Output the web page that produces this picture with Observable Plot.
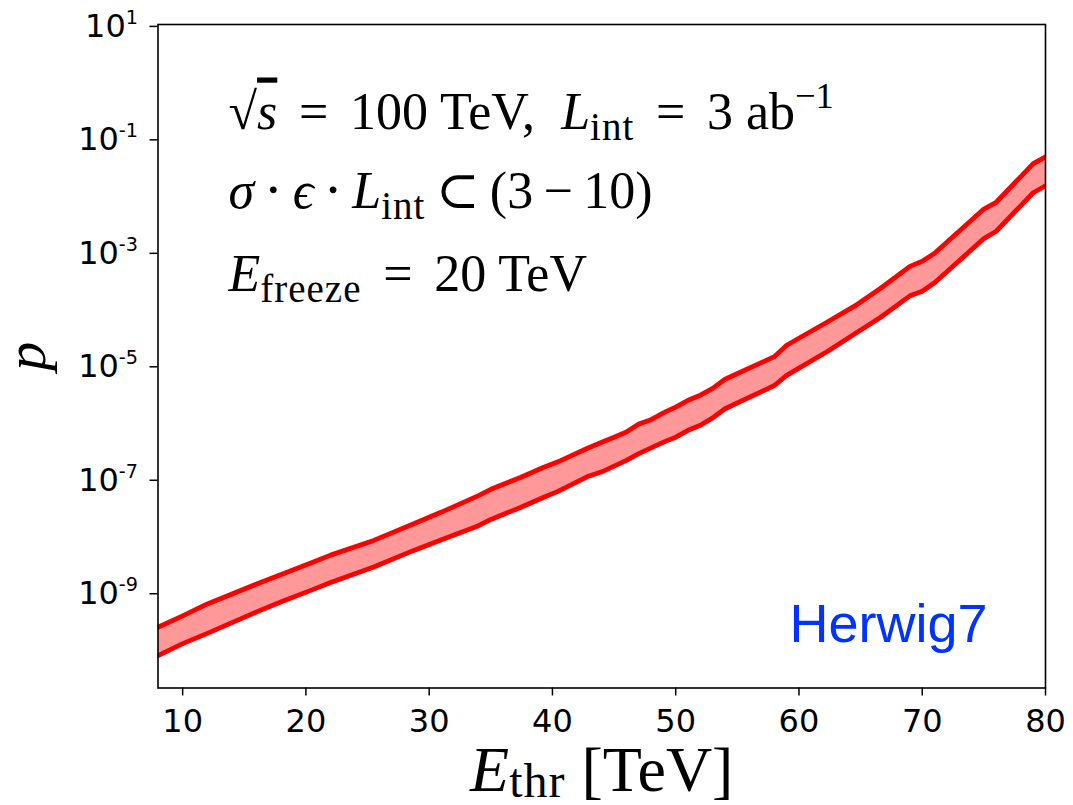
<!DOCTYPE html>
<html><head><meta charset="utf-8">
<script src="https://cdn.jsdelivr.net/npm/d3@7"></script>
<script src="https://cdn.jsdelivr.net/npm/@observablehq/plot@0.6"></script>
<style>body{margin:0;background:#fff} svg{display:block}</style>
</head><body><div id="chart"></div>
<script>
const E = [8,10,12,16,18,20.5,22,25.5,28.7,31,34,35,37.4,39.3,40.4,42.8,44,45,46,47,48,49.2,50,51,52,53,54,58,59,62.3,64.5,66.6,69,70,71,75,76,79,80];
const pUpper = [2.57e-10,4.07e-10,6.61e-10,1.48e-9,2.19e-9,3.55e-9,4.79e-9,8.71e-9,1.70e-8,2.75e-8,5.37e-8,6.92e-8,1.12e-7,1.70e-7,2.09e-7,3.63e-7,4.68e-7,5.75e-7,7.08e-7,9.77e-7,1.17e-6,1.62e-6,1.95e-6,2.57e-6,3.16e-6,4.17e-6,6.03e-6,1.51e-5,2.40e-5,6.17e-5,1.17e-4,2.40e-4,5.89e-4,7.24e-4,1.00e-3,6.03e-3,7.94e-3,3.80e-2,5.01e-2];
const pLower = [8.13e-11,1.32e-10,2.00e-10,4.79e-10,7.24e-10,1.17e-9,1.58e-9,2.95e-9,5.75e-9,8.91e-9,1.58e-8,2.04e-8,3.31e-8,5.01e-8,6.31e-8,1.15e-7,1.41e-7,1.78e-7,2.24e-7,2.95e-7,3.72e-7,4.90e-7,5.75e-7,7.59e-7,9.33e-7,1.26e-6,1.82e-6,4.68e-6,7.08e-6,1.86e-5,3.80e-5,7.41e-5,1.78e-4,2.14e-4,3.02e-4,1.82e-3,2.45e-3,1.17e-2,1.55e-2];
const xTicks = [10,20,30,40,50,60,70,80];
const yTicks = [1e1,1e-1,1e-3,1e-5,1e-7,1e-9];
const yTickLabels = ["10^{1}","10^{-1}","10^{-3}","10^{-5}","10^{-7}","10^{-9}"];
const annotLines = [
  "√~{s}\u2004\u200a=\u2004\u200a100 TeV,\u2002$L$_{int}\u2004\u200a=\u2004\u200a3 ab^{−1}",
  "$σ$\u2009⋅\u2009$ϵ$\u2009⋅\u2009$L$_{int}\u2009⊂\u2009(3\u2009−\u200910)",
  "$E$_{freeze}\u2004\u200a=\u2004\u200a20 TeV"
];
const xLabel = "$E$_{thr} [TeV]";
const yLabel = "$p$";
const generatorLabel = "Herwig7";

const rows = E.map((e, i) => ({E: e, hi: pUpper[i], lo: pLower[i]}));
const serif = "'Liberation Serif', 'DejaVu Serif', serif";
const annotDy = [104, 183, 266];

const plot = Plot.plot({
  width: 1073, height: 805,
  marginLeft: 157.5, marginRight: 28, marginTop: 24, marginBottom: 117.5,
  style: {fontFamily: "'DejaVu Sans', sans-serif", fontSize: "32px", background: "white", color: "black", overflow: "visible"},
  x: {domain: [8, 80]},
  y: {type: "log", domain: [2.18e-11, 10.8]},
  marks: [
    Plot.areaY(rows, {x: "E", y1: "lo", y2: "hi", fill: "#ff9999", clip: true}),
    Plot.lineY(rows, {x: "E", y: "hi", stroke: "#ff0000", strokeWidth: 4.8, clip: true}),
    Plot.lineY(rows, {x: "E", y: "lo", stroke: "#ff0000", strokeWidth: 4.8, clip: true}),
    Plot.frame({stroke: "black", strokeWidth: 1.6}),
    Plot.axisX({ticks: xTicks, tickSize: 8, tickPadding: 13, fontSize: 32, label: null, tickFormat: d => String(d), strokeWidth: 1.5}),
    Plot.axisY({ticks: yTicks, tickSize: 8, tickPadding: 12, fontSize: 32, label: null, strokeWidth: 1.5,
      tickFormat: d => {
        let best = 0;
        yTicks.forEach((t, i) => { if (Math.abs(Math.log10(t) - Math.log10(d)) < Math.abs(Math.log10(yTicks[best]) - Math.log10(d))) best = i; });
        return yTickLabels[best];
      }}),
    ...annotLines.map((s, i) => Plot.text([s], {frameAnchor: "top-left", dx: 70.5, dy: annotDy[i], textAnchor: "start", lineAnchor: "bottom", fontSize: 52, fontFamily: serif, fill: "black"})),
    Plot.text([xLabel], {frameAnchor: "bottom", dy: 103, textAnchor: "middle", lineAnchor: "bottom", fontSize: 64, fontFamily: serif, fill: "black"}),
    Plot.text([yLabel], {frameAnchor: "left", dx: -113, rotate: -90, textAnchor: "middle", lineAnchor: "bottom", fontSize: 58, fontFamily: serif, fill: "black"}),
    Plot.text([generatorLabel], {frameAnchor: "bottom-right", dx: -58, dy: -46.5, textAnchor: "end", lineAnchor: "bottom", fontSize: 54, fontFamily: "'Liberation Sans', Arial, sans-serif", fill: "#0033ff"})
  ]
});
document.getElementById("chart").appendChild(plot);

function richify(el, src, opt = {}) {
  const fs = parseFloat(getComputedStyle(el).fontSize) || 16;
  const supScale = opt.supScale ?? 0.7, subScale = opt.subScale ?? 0.75;
  const supRise = opt.supRise ?? 0.4, subDrop = opt.subDrop ?? 0.22;
  const segs = [];
  let i = 0, italic = false, buf = "";
  const push = (text, kind, it) => { if (text) segs.push({text, kind, italic: it}); };
  while (i < src.length) {
    const c = src[i];
    if (c === "$") { push(buf, "n", italic); buf = ""; italic = !italic; i++; continue; }
    if ((c === "_" || c === "^" || c === "~") && src[i + 1] === "{") {
      push(buf, "n", italic); buf = "";
      const j = src.indexOf("}", i + 2);
      const inner = src.slice(i + 2, j);
      push(inner, c === "_" ? "sub" : c === "^" ? "sup" : "over", c === "~");
      i = j + 1; continue;
    }
    buf += c; i++;
  }
  push(buf, "n", italic);
  el.textContent = "";
  el.style.whiteSpace = "pre";
  let shift = 0;
  for (const s of segs) {
    const t = document.createElementNS("http://www.w3.org/2000/svg", "tspan");
    let target = 0, size = fs;
    if (s.kind === "sub") { target = subDrop * fs; size = subScale * fs; }
    if (s.kind === "sup") { target = -supRise * fs; size = supScale * fs; }
    if (target !== shift) { t.setAttribute("dy", target - shift); shift = target; }
    if (size !== fs) t.setAttribute("font-size", size);
    if (s.kind === "sub" && opt.subSpacing) t.setAttribute("letter-spacing", opt.subSpacing);
    if (s.italic) t.setAttribute("font-style", "italic");
    if (s.kind === "over") { t.setAttribute("text-decoration", "overline"); t.style.textDecoration = "overline"; }
    t.textContent = s.text;
    el.appendChild(t);
  }
}
plot.querySelectorAll("text").forEach(el => {
  const src = el.textContent;
  if (!/\$|[_^~]\{/.test(src)) return;
  if (el.closest('g[aria-label="y-axis tick label"]')) richify(el, src, {supScale: 0.6, supRise: 0.4});
  else if (src.includes("thr")) richify(el, src, {subDrop: 0.1, subScale: 0.75, subSpacing: 1});
  else richify(el, src, {subSpacing: 1});
});
</script></body></html>
